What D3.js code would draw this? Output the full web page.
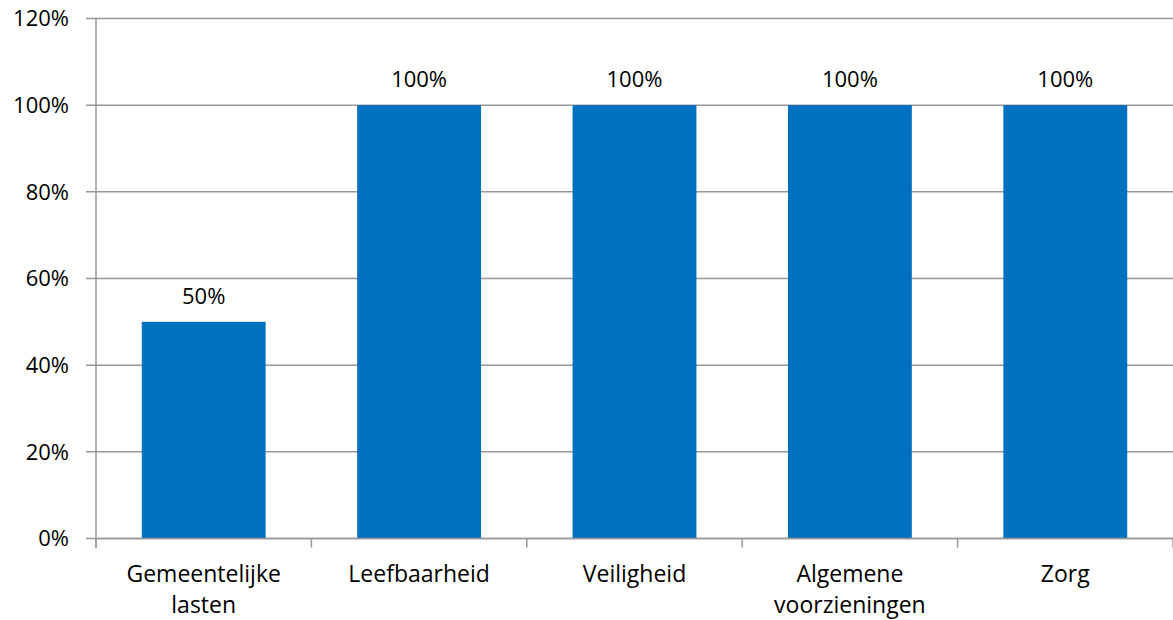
<!DOCTYPE html>
<html>
<head>
<meta charset="utf-8">
<script src="https://cdn.jsdelivr.net/npm/d3@7"></script>
<style>
  body { margin: 0; background: #fff; }
  text { font-family: "Open Sans", sans-serif; fill: #000; }
</style>
</head>
<body>
<script>
const categories = [["Gemeentelijke", "lasten"], ["Leefbaarheid"], ["Veiligheid"], ["Algemene", "voorzieningen"], ["Zorg"]];
const values = [0.5, 1, 1, 1, 1];
const yTicks = [0, 0.2, 0.4, 0.6, 0.8, 1.0, 1.2];

const W = 1173;
const H = 620;
const padL = 96, padR = 1173, padT = 18.5, padB = 538.5;
const fs = 22;

const svg = d3.select("body").append("svg")
  .attr("width", W)
  .attr("height", H);

const x = d3.scaleBand()
  .domain(d3.range(categories.length))
  .range([padL, padR])
  .padding(0);

const y = d3.scaleLinear()
  .domain([0, 1.2])
  .range([padB, padT]);

const barW = x.bandwidth() * 0.575;
const fmt = d => Math.round(d * 100) + "%";

// gridlines
svg.append("g")
  .selectAll("line")
  .data(yTicks)
  .enter()
  .append("line")
  .attr("x1", padL - 10)
  .attr("x2", padR)
  .attr("y1", d => y(d))
  .attr("y2", d => y(d))
  .attr("stroke", "#989898")
  .attr("stroke-width", 1.5);

// y labels
svg.append("g")
  .selectAll("text")
  .data(yTicks)
  .enter()
  .append("text")
  .attr("x", 69)
  .attr("y", d => y(d))
  .attr("dy", "0.36em")
  .attr("text-anchor", "end")
  .style("font-size", fs + "px")
  .text(fmt);

// bars
svg.append("g")
  .selectAll("rect")
  .data(values)
  .enter()
  .append("rect")
  .attr("x", (d, i) => x(i) + (x.bandwidth() - barW) / 2)
  .attr("y", d => y(d))
  .attr("width", barW)
  .attr("height", d => y(0) - y(d))
  .attr("fill", "#0070C0");

// value labels
svg.append("g")
  .selectAll("text")
  .data(values)
  .enter()
  .append("text")
  .attr("x", (d, i) => x(i) + x.bandwidth() / 2)
  .attr("y", d => y(d) - 18)
  .attr("text-anchor", "middle")
  .style("font-size", fs + "px")
  .text(fmt);

// axes lines
svg.append("line")
  .attr("x1", padL).attr("x2", padL)
  .attr("y1", padT).attr("y2", padB + 9)
  .attr("stroke", "#989898").attr("stroke-width", 1.5);

svg.append("line")
  .attr("x1", padL).attr("x2", padR)
  .attr("y1", padB).attr("y2", padB)
  .attr("stroke", "#989898").attr("stroke-width", 1.5);

// x ticks
svg.append("g")
  .selectAll("line")
  .data(d3.range(categories.length + 1))
  .enter()
  .append("line")
  .attr("x1", i => padL + i * x.step())
  .attr("x2", i => padL + i * x.step())
  .attr("y1", padB)
  .attr("y2", padB + 9)
  .attr("stroke", "#989898")
  .attr("stroke-width", 1.5);

// category labels
const cat = svg.append("g")
  .selectAll("text")
  .data(categories)
  .enter()
  .append("text")
  .attr("x", (d, i) => x(i) + x.bandwidth() / 2)
  .attr("y", 582)
  .attr("text-anchor", "middle")
  .style("font-size", "23px");

cat.selectAll("tspan")
  .data(d => d)
  .enter()
  .append("tspan")
  .attr("x", function () { return d3.select(this.parentNode).attr("x"); })
  .attr("dy", (d, i) => i === 0 ? 0 : 31)
  .text(d => d);
</script>
</body>
</html>
